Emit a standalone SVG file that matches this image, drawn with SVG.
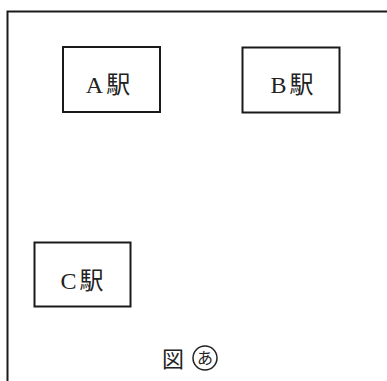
<svg xmlns="http://www.w3.org/2000/svg" width="387" height="381" viewBox="0 0 387 381">
<style>
.box{fill:#fff;stroke:#1a1a1a;stroke-width:2}
.lbl{font-family:"Liberation Serif","Noto Sans CJK JP",serif;font-size:24px;fill:#222;text-anchor:middle}
</style>
<rect x="0" y="0" width="387" height="381" fill="#fff"/>
<g id="frame">
<path d="M7.5,381 V11.5 H387" fill="none" stroke="#1a1a1a" stroke-width="2"/>
</g>
<g id="connectors"></g>
<g id="stationA">
<rect class="box" x="63" y="47" width="97" height="65"/>
<text class="lbl" x="108" y="93"><tspan>A</tspan><tspan dx="3">駅</tspan></text>
</g>
<g id="stationB">
<rect class="box" x="242.5" y="47.5" width="97" height="65"/>
<text class="lbl" x="292" y="93"><tspan>B</tspan><tspan dx="3">駅</tspan></text>
</g>
<g id="stationC">
<rect class="box" x="34.5" y="242.5" width="96" height="64"/>
<text class="lbl" x="82" y="289"><tspan>C</tspan><tspan dx="3">駅</tspan></text>
</g>
<g id="caption">
<circle cx="205" cy="358" r="12" fill="none" stroke="#222" stroke-width="1.5"/>
<text class="lbl" x="173" y="367" style="font-size:22px">図</text>
<text class="lbl" x="205" y="364" style="font-size:16px">あ</text>
</g>
</svg>
